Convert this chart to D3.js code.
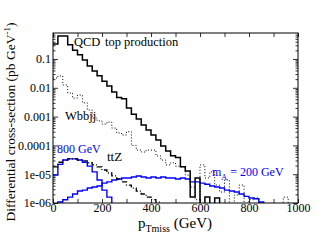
<!DOCTYPE html>
<html>
<head>
<meta charset="utf-8">
<script src="https://cdn.jsdelivr.net/npm/d3@7"></script>
<style>
  html, body { margin: 0; padding: 0; background: #fff; }
</style>
</head>
<body>
<div id="chart"></div>
<script>
// bin lower edges in GeV (20 GeV bins)
const binWidth = 20;
const serif = "'Liberation Serif', 'Times New Roman', Times, serif";

// differential cross-sections (pb/GeV) per bin, starting at 0 GeV; 0 = empty bin
const qcdTop = [0.33, 0.63, 0.63, 0.31, 0.20, 0.14, 0.092, 0.057, 0.038, 0.026,
    0.017, 0.0115, 0.0071, 0.0046, 0.0042, 0.0020, 0.0012, 0.00083, 0.00051, 0.00034,
    0.00023, 0.000154, 9.5e-5, 6.4e-5, 4.4e-5, 3.8e-5, 1.8e-5, 1.3e-5, 1.6e-6, 7.4e-6,
    0, 1.6e-6, 0, 1.5e-6, 0];
const wbbjj = [0.022, 0.026, 0.0125, 0.0066, 0.0044, 0.0056, 0.0030, 0.0017, 0.00089, 0.00071,
    0.00055, 0.00065, 0.0004, 0.00027, 0.00023, 0.0003, 0.0001, 6.9e-5, 5.9e-5, 6.9e-5,
    6.9e-5, 4.3e-5, 3.1e-5, 2.1e-5, 2.5e-5, 1.9e-5, 1.8e-5, 9.3e-6, 3.6e-6, 1.3e-6,
    2.1e-5, 7.4e-6, 1.2e-5, 4.2e-6, 2.4e-6, 6.3e-6, 0, 1.9e-6, 4.2e-6, 0,
    1.3e-6, 1.5e-6, 0, 0, 0, 0, 0, 1.6e-6, 0];
const ttZ = [1.8e-5, 2.6e-5, 3.1e-5, 3.4e-5, 3.4e-5, 3.1e-5, 2.9e-5, 2.5e-5, 2.1e-5, 1.8e-5,
    1.4e-5, 1.1e-5, 8.7e-6, 6.8e-6, 5.4e-6, 4.2e-6, 3.3e-6, 2.6e-6, 2.05e-6, 1.6e-6,
    1.3e-6, 1.08e-6, 0];
const signal800 = [9.3e-6, 2.2e-5, 3.1e-5, 3.4e-5, 3.4e-5, 3.1e-5, 2.6e-5, 1.9e-5, 1.2e-5, 6.3e-6,
    2.8e-6, 1.6e-6, 0];
const signal200 = [0, 1.08e-6, 1.3e-6, 1.6e-6, 2.05e-6, 2.6e-6, 2.8e-6, 3.3e-6, 3.6e-6, 3.9e-6,
    4.9e-6, 5.4e-6, 6.3e-6, 6.8e-6, 7.4e-6, 7.4e-6, 8.0e-6, 8.7e-6, 8.0e-6, 7.4e-6,
    8.0e-6, 7.4e-6, 8.0e-6, 7.4e-6, 7.4e-6, 6.8e-6, 7.4e-6, 6.8e-6, 5.4e-6, 5.4e-6,
    4.9e-6, 4.5e-6, 3.9e-6, 3.6e-6, 3.3e-6, 2.8e-6, 2.6e-6, 2.4e-6, 2.05e-6, 1.7e-6,
    1.5e-6, 1.4e-6, 1.08e-6, 0];

const xMajorTicks = [0, 200, 400, 600, 800, 1000];
const xMinorTicks = [100, 300, 500, 700, 900];
const yMajorTicks = [1e-6, 1e-5, 1e-4, 1e-3, 1e-2, 1e-1];
const yTickLabels = ['1e-06', '1e-05', '0.0001', '0.001', '0.01', '0.1'];

const W = 319, H = 247;
const margins = { top: 33, right: 21, bottom: 44, left: 53 };
const width = W - margins.left - margins.right;
const height = H - margins.top - margins.bottom;

const svg = d3.select('#chart').append('svg')
    .attr('width', W)
    .attr('height', H);

const canvas = svg.append('g')
    .attr('transform', `translate(${margins.left}, ${margins.top})`);

const xScale = d3.scaleLinear().domain([0, 1000]).range([0, width]);
const yScale = d3.scaleLog().domain([1e-6, 0.8]).range([height, 0]);

// minor log ticks 2..9 per decade
const yMinorTicks = [];
yMajorTicks.forEach(d => { for (let k = 2; k <= 9; k++) if (d * k < 0.8) yMinorTicks.push(d * k); });

svg.append('defs').append('clipPath').attr('id', 'plotclip')
    .append('rect').attr('width', width).attr('height', height);

function addAxis(axis, transform, values, size, labels, pad) {
    const g = canvas.append('g')
        .attr('transform', transform)
        .call(axis.tickValues(values).tickSize(size).tickPadding(pad === undefined ? 3 : pad)
            .tickFormat(labels ? (d, i) => labels[i] : ''));
    g.attr('font-family', serif).attr('font-size', 12);
    g.select('.domain').remove();
    g.selectAll('line').attr('stroke', '#000').attr('stroke-width', 0.8);
    g.selectAll('text').attr('fill', '#000');
    return g;
}

// inward ticks on all four sides
addAxis(d3.axisBottom(xScale), `translate(0, ${height})`, xMajorTicks, -4, xMajorTicks.map(String), 0);
addAxis(d3.axisBottom(xScale), `translate(0, ${height})`, xMinorTicks, -4, null);
addAxis(d3.axisTop(xScale), 'translate(0, 0)', xMajorTicks.concat(xMinorTicks), -4, null);
addAxis(d3.axisLeft(yScale), 'translate(0, 0)', yMajorTicks, -5, yTickLabels, 2);
addAxis(d3.axisLeft(yScale), 'translate(0, 0)', yMinorTicks, -2.5, null);
addAxis(d3.axisRight(yScale), `translate(${width}, 0)`, yMajorTicks, -5, null);
addAxis(d3.axisRight(yScale), `translate(${width}, 0)`, yMinorTicks, -2.5, null);

const plot = canvas.append('g').attr('clip-path', 'url(#plotclip)');

const stepLine = d3.line()
    .x(d => xScale(d[0]))
    .y(d => d[1] > 0 ? yScale(d[1]) : height + 5)
    .curve(d3.curveStepAfter);

function histPoints(values) {
    const pts = values.map((v, i) => [i * binWidth, v]);
    pts.push([values.length * binWidth, values[values.length - 1]]);
    return pts;
}

function drawHist(values, color, widthPx, dash) {
    plot.append('path')
        .datum(histPoints(values))
        .attr('d', stepLine)
        .attr('fill', 'none')
        .attr('stroke', color)
        .attr('stroke-width', widthPx)
        .attr('stroke-dasharray', dash);
}

drawHist(wbbjj, '#000', 1, '1,2');
drawHist(signal200, '#0000ff', 1.4, null);
drawHist(signal800, '#0000ff', 1.4, null);
drawHist(ttZ, '#000', 1.3, '5,2,1,2');
drawHist(qcdTop, '#000', 1.5, null);

// frame
canvas.append('rect')
    .attr('width', width).attr('height', height)
    .attr('fill', 'none').attr('stroke', '#000').attr('stroke-width', 1);

// annotations
function label(x, y, txt, size, color) {
    return svg.append('text').attr('x', x).attr('y', y)
        .attr('font-family', serif)
        .attr('font-size', size).attr('fill', color).text(txt);
}
label(74, 46, 'QCD', 12.5, '#000');
label(105, 46, 'top production', 12.5, '#000');
label(65, 120, 'Wbbjj', 12.5, '#000');
label(57, 153, '800 GeV', 12, '#0000ff');
label(107, 161, 'ttZ', 13, '#000');

const mA = svg.append('text').attr('x', 212).attr('y', 176)
    .attr('font-family', serif).attr('font-size', 12).attr('fill', '#0000ff');
mA.append('tspan').text('m');
mA.append('tspan').attr('dy', 4).attr('font-size', 8).text('A');
mA.append('tspan').attr('dy', -4).text(' = 200 GeV');

// axis titles
const xt = svg.append('text').attr('x', 175).attr('y', 228)
    .attr('text-anchor', 'middle').attr('font-family', serif)
    .attr('font-size', 15).attr('fill', '#000');
xt.append('tspan').text('p');
xt.append('tspan').attr('dy', 4).attr('font-size', 10).text('Tmiss');
xt.append('tspan').attr('dy', -4).text(' (GeV)');

const yt = svg.append('text')
    .attr('transform', 'translate(15, 122) rotate(-90)')
    .attr('text-anchor', 'middle').attr('font-family', serif)
    .attr('font-size', 13.5).attr('fill', '#000');
yt.append('tspan').text('Differential cross-section (pb GeV');
yt.append('tspan').attr('dy', -5).attr('font-size', 9).text('-1');
yt.append('tspan').attr('dy', 5).text(')');
</script>
</body>
</html>
